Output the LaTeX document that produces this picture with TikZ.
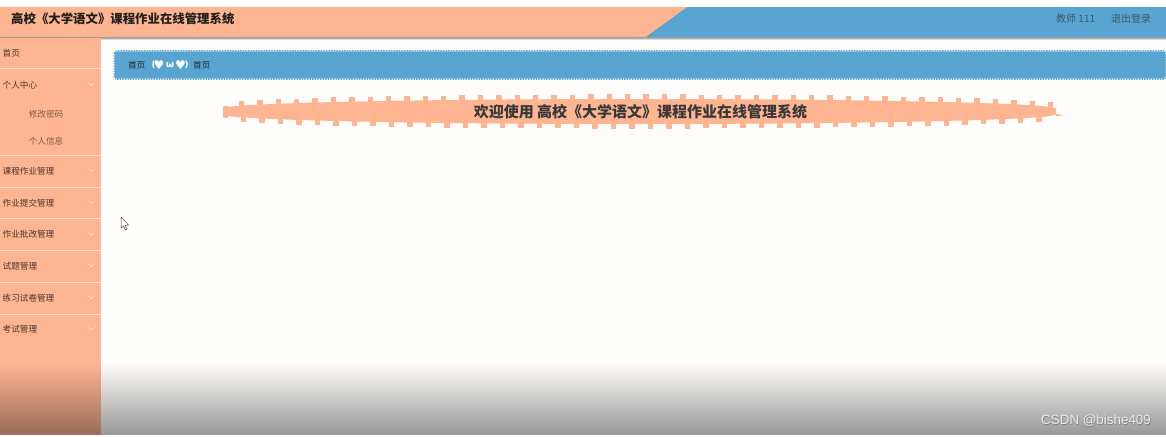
\documentclass[tikz,border=0pt]{standalone}
\usepackage{fontspec}
\setmainfont{Noto Sans CJK SC}
\newfontfamily\latinf{Liberation Sans}
\newfontfamily\hearts{DejaVu Sans}
\definecolor{peach}{HTML}{FFB592}
\definecolor{skyb}{HTML}{57A5D0}
\definecolor{pagebg}{HTML}{FFFEFD}
\definecolor{menutxt}{HTML}{46362E}
\definecolor{subtxt}{HTML}{7A5B4B}
\definecolor{toptxt}{HTML}{3E5866}
\tikzset{
 menuitem/.style={anchor=west,inner sep=0pt,font=\fontsize{8.6}{9}\selectfont,text=menutxt},
 subitem/.style={anchor=center,inner sep=0pt,font=\fontsize{8.6}{9}\selectfont,text=subtxt},
 sepline/.style={draw=white!60!peach,line width=0.8pt},
 chev/.style={draw=white!65!peach,line width=0.8pt},
 toplink/.style={anchor=west,inner sep=0pt,font=\fontsize{10}{11}\selectfont,text=toptxt},
 crumb/.style={anchor=west,inner sep=0pt,font=\fontsize{8.6}{9}\selectfont,text=black!85},
 facetxt/.style={anchor=center,inner sep=0pt,text=white}
}
\begin{document}
\begin{tikzpicture}[x=1pt,y=-1pt]
\useasboundingbox (0,0) rectangle (1166,436);
\fill[white] (0,0) rectangle (1166,436);
\fill[pagebg] (101,37) rectangle (1166,434);
% header
\shade[top color=black!45,bottom color=pagebg] (0,37) rectangle (1166,40);
\fill[skyb] (640,7) rectangle (1166,37.5);
\fill[peach] (0,7) -- (687,7) -- (645,37.5) -- (0,37.5) -- cycle;
\draw[black!40,line width=0.5pt] (0,37.5) -- (1166,37.5);
\node[anchor=west,inner sep=0pt,font=\bfseries\fontsize{12.4}{13}\selectfont,text=black!88] (title) at (11,19) {高校《大学语文》课程作业在线管理系统};
\node[toplink] (teacher) at (1056,18.5) {教师 111};
\node[toplink] (logout) at (1111,18.5) {退出登录};
% sidebar
\fill[peach] (0,38) rectangle (101,434);
\foreach \y in {68.5,155.5,187,218.5,250.5,282,314}{\draw[sepline] (0,\y) -- (101,\y);}
\node[menuitem] (m1) at (2.5,53) {首页};
\node[menuitem] (m2) at (2.5,85) {个人中心};
\node[subitem] (s1) at (46,114) {修改密码};
\node[subitem] (s2) at (46,141.5) {个人信息};
\node[menuitem] (m3) at (2.5,171) {课程作业管理};
\node[menuitem] (m4) at (2.5,203) {作业提交管理};
\node[menuitem] (m5) at (2.5,234.5) {作业批改管理};
\node[menuitem] (m6) at (2.5,266) {试题管理};
\node[menuitem] (m7) at (2.5,298) {练习试卷管理};
\node[menuitem] (m8) at (2.5,329.5) {考试管理};
\foreach \y in {84.5,170.5,202.5,234,265.5,297.5,329}{
 \draw[chev] (88.5,\y-1.5) -- (91.5,\y+1) -- (94.5,\y-1.5);}
% bottom fade
\shade[top color=peach,bottom color=peach!60!black] (0,362) rectangle (101,434);
\shade[top color=pagebg,bottom color=black!40] (101,362) rectangle (1166,434);
% breadcrumb bar
\fill[skyb,rounded corners=2pt] (114.5,51.5) rectangle (1165.5,78.5);
\draw[skyb,line width=1.2pt,dash pattern=on 1.3pt off 1.3pt,rounded corners=2pt] (114.3,50.7) rectangle (1165.7,79.3);
\node[crumb] (c1) at (128,65) {首页};
\node[facetxt,font=\hearts\bfseries\fontsize{8.6}{9}\selectfont] (lp) at (153.5,65) {(};
\node[facetxt,font=\hearts\fontsize{12}{12}\selectfont] (h1) at (159,65) {♥};
\node[facetxt,font=\hearts\bfseries\fontsize{9.5}{10}\selectfont] (om) at (170,65) {ω};
\node[facetxt,font=\hearts\fontsize{12}{12}\selectfont] (h2) at (180.5,65) {♥};
\node[facetxt,font=\hearts\bfseries\fontsize{8.6}{9}\selectfont] (rp) at (186.5,65) {)};
\node[crumb] (c2) at (193,65) {首页};
% banner
\fill[peach] plot[domain=223:1056,samples=120,smooth] (\x,{111.5-3-9.5*sqrt(max(0,1-((\x-639.5)/416.5)^2))})
  -- (1056,114) -- (1063,115) -- (1056,116.5)
  -- plot[domain=1056:223,samples=120,smooth] (\x,{111.5+3+9.5*sqrt(max(0,1-((\x-639.5)/416.5)^2))}) -- cycle;
\fill[peach] (223,105.5) rectangle (228,117.5);
\foreach \k in {0,...,44}{
 \pgfmathsetmacro{\xt}{241.5+18.39*\k}
 \pgfmathsetmacro{\tt}{(\xt-639.5)/416.5}
 \pgfmathsetmacro{\ht}{3+9.5*sqrt(max(0,1-\tt*\tt))}
 \fill[peach] (\xt-2.7,111.5-\ht-4.6) rectangle (\xt+2.7,111.5-\ht+1);
}
\foreach \k in {0,...,43}{
 \pgfmathsetmacro{\xb}{243.3+18.5*\k}
 \pgfmathsetmacro{\tb}{(\xb-639.5)/416.5}
 \pgfmathsetmacro{\hb}{3+9.5*sqrt(max(0,1-\tb*\tb))}
 \fill[peach] (\xb-2.7,111.5+\hb-1) rectangle (\xb+2.7,111.5+\hb+4.6);
}
\node[anchor=center,inner sep=0pt,font=\bfseries\fontsize{15}{16}\selectfont,text=black!78] (welcome) at (640.5,112) {欢迎使用 高校《大学语文》课程作业在线管理系统};
% cursor
\draw[black!70,fill=white,line width=0.5pt,line join=round] (121,217) -- (121,228) -- (123.5,226) -- (125.5,230) -- (127,229) -- (125,225.5) -- (128.5,225) -- cycle;
% watermark
\node[anchor=west,inner sep=0pt,font=\latinf\fontsize{13.4}{14}\selectfont,text=black!50] at (1041.6,421.6) {CSDN @bishe409};
\node[anchor=west,inner sep=0pt,font=\latinf\fontsize{13.4}{14}\selectfont,text=black!8] (mark) at (1041,421) {CSDN @bishe409};
\end{tikzpicture}
\end{document}
